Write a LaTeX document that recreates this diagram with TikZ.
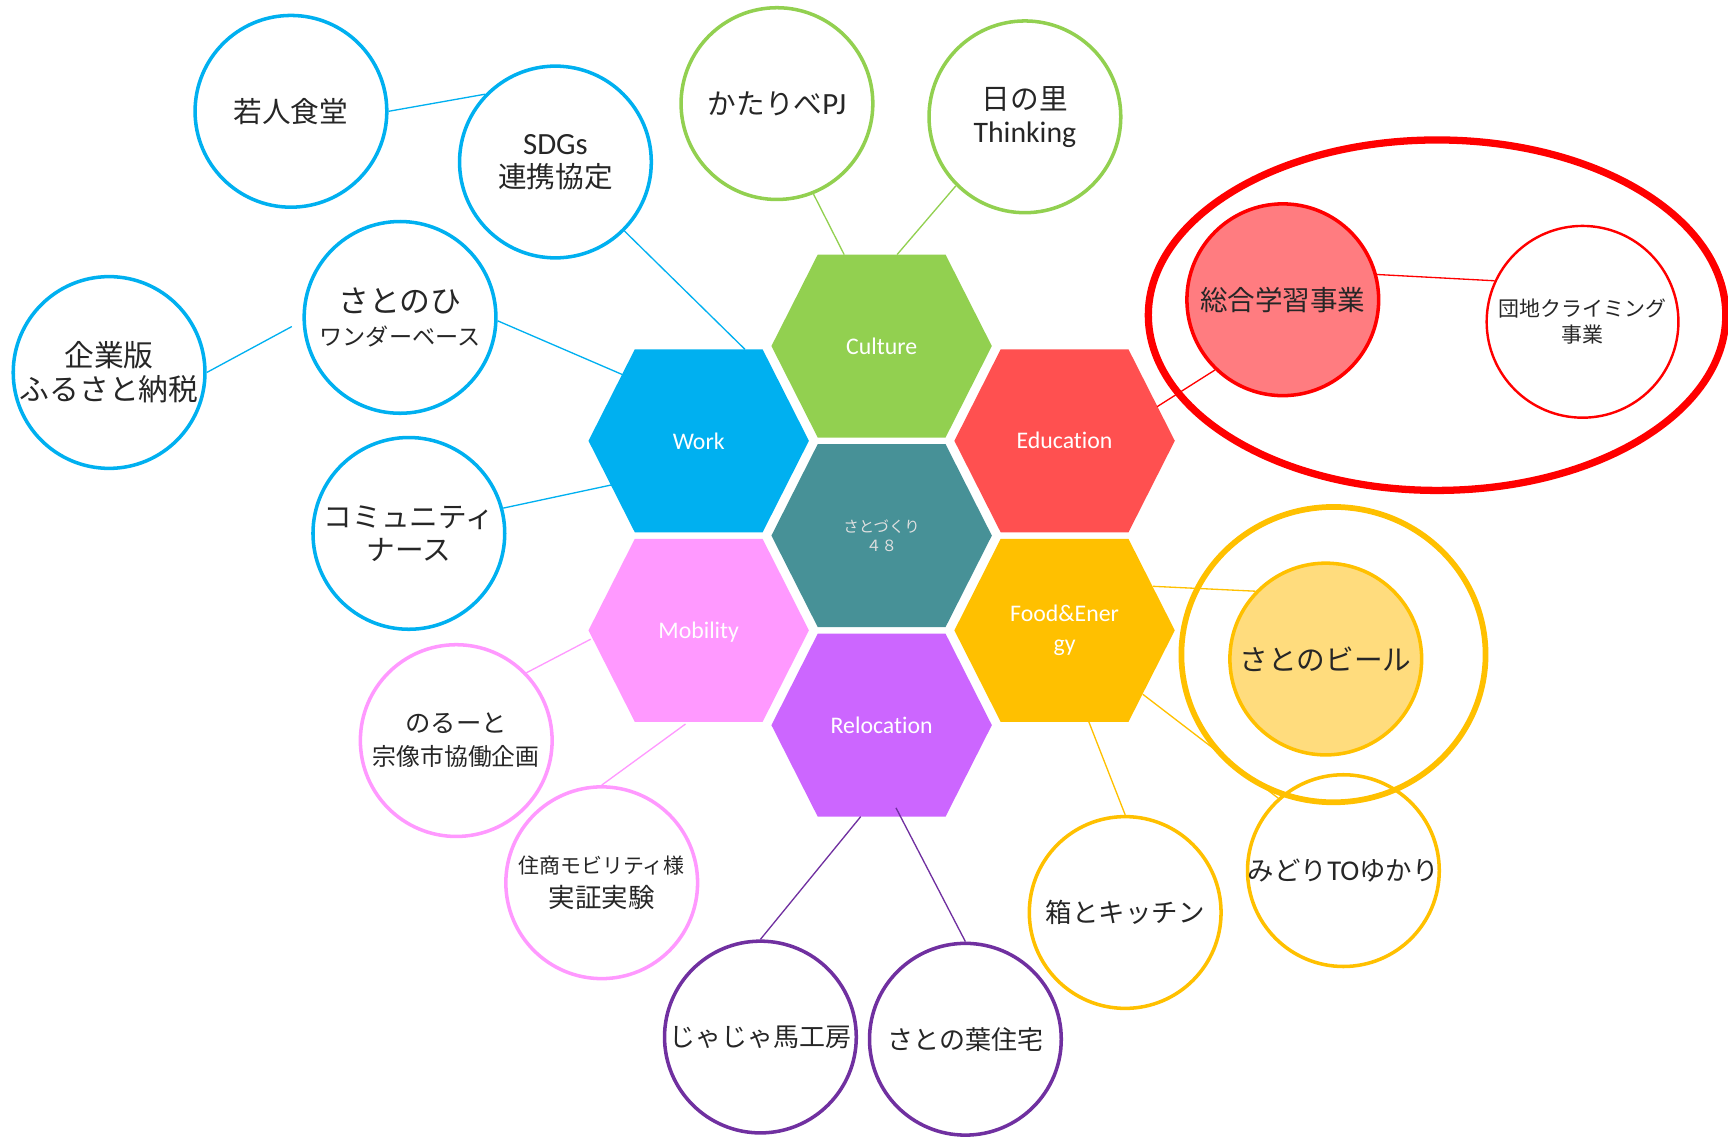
\documentclass[tikz,border=0pt]{standalone}
\usepackage{fontspec}
\setmainfont{Carlito}[Ligatures=NoCommon]
\newfontfamily\jp{Noto Sans CJK JP}
\newfontfamily\lat{Carlito}[Ligatures=NoCommon]
\usetikzlibrary{calc,shapes.geometric}

\definecolor{cWork}{HTML}{00B0F0}
\definecolor{cCulture}{HTML}{92D050}
\definecolor{cEdu}{HTML}{FF5050}
\definecolor{cCore}{HTML}{479197}
\definecolor{cMob}{HTML}{FF99FF}
\definecolor{cFood}{HTML}{FFC000}
\definecolor{cReloc}{HTML}{CC66FF}
\definecolor{cRing}{HTML}{FF0000}
\definecolor{cSalmon}{HTML}{FF7C80}
\definecolor{cBeer}{HTML}{FFDC7D}
\definecolor{cPurple}{HTML}{7030A0}

\newcommand{\hexfill}[2]{\fill[#2] (#1) ++(-100,0) -- ++(42,-83) -- ++(116,0) -- ++(42,83) -- ++(-42,83) -- ++(-116,0) -- cycle;}

\begin{document}
\begin{tikzpicture}[
		x=0.5pt, y=-0.5pt,
		hexlabel/.style={text=white, align=center, font=\fontsize{10.8}{13.5}\selectfont},
		bub/.style={draw=#1, circle, line width=1.6pt, minimum size=87pt, inner sep=0pt, align=center, text=black!85, font=\jp\fontsize{13}{15}\selectfont},
		outring/.style={draw=#1, ellipse, inner sep=0pt},
		ln/.style={draw=#1, line width=0.6pt}
	]
	\useasboundingbox (0,0) rectangle (1568,1033);

	\hexfill{800,314}{cCulture}
	\hexfill{634,400}{cWork}
	\hexfill{966,400}{cEdu}
	\hexfill{800,486}{cCore}
	\hexfill{634,572}{cMob}
	\hexfill{966,572}{cFood}
	\hexfill{800,658}{cReloc}

	\node[hexlabel] (culture) at (800,314) {Culture};
	\node[hexlabel] (work) at (634,400) {Work};
	\node[hexlabel] (edu) at (966,400) {Education};
	\node[hexlabel, text=white!88!black, font=\jp\fontsize{7}{8.5}\selectfont] (core) at (800,486) {さとづくり\\４８};
	\node[hexlabel] (mob) at (634,574) {Mobility};
	\node[hexlabel] (food) at (966,572) {Food\&Ener\\gy};
	\node[hexlabel] (reloc) at (800,658) {Relocation};

	\node[outring=cRing, line width=3.3pt, minimum width=262pt, minimum height=159pt] (eduring) at (1304,286) {};
	\node[outring=cFood, line width=2.6pt, minimum width=138pt, minimum height=134pt] (beerring) at (1210,594) {};

	\node[bub=cWork] (wakaudo) at (264,101) {若人食堂};
	\node[bub=cWork] (sdgs) at (504,147) {{\lat\fontsize{14}{15}\selectfont SDGs}\\連携協定};
	\node[bub=cWork] (satonohi) at (363,288) {\fontsize{14}{16}\selectfont さとのひ\\\fontsize{10.5}{14}\selectfont ワンダーベース};
	\node[bub=cWork, font=\jp\fontsize{13.5}{15.5}\selectfont] (kigyo) at (99,338) {企業版\\ふるさと納税};
	\node[bub=cWork] (community) at (371,484) {コミュニティ\\ナース};

	\node[bub=cCulture] (katari) at (705,94) {かたりべ{\lat\fontsize{14}{15}\selectfont PJ}};
	\node[bub=cCulture] (hinosato) at (930,106) {日の里\\{\lat\fontsize{13.5}{15}\selectfont Thinking}};

	\node[bub=cRing, fill=cSalmon, font=\jp\fontsize{12.5}{15}\selectfont] (sogo) at (1164,272) {総合学習事業};
	\node[bub=cRing, line width=1.1pt, font=\jp\fontsize{9.5}{12}\selectfont] (danchi) at (1436,292) {団地クライミング\\事業};

	\node[bub=cFood, fill=cBeer] (beer) at (1203,598) {さとのビール};
	\node[bub=cFood, font=\jp\fontsize{12}{15}\selectfont] (midori) at (1219,790) {みどり{\lat\fontsize{13}{15}\selectfont TO}ゆかり};
	\node[bub=cFood, font=\jp\fontsize{12}{15}\selectfont] (hako) at (1021,828) {箱とキッチン};

	\node[bub=cMob] (norto) at (414,672) {\fontsize{11.5}{14}\selectfont のるーと\\\fontsize{10.8}{14}\selectfont 宗像市協働企画};
	\node[bub=cMob] (jusho) at (546,801) {\fontsize{9.5}{13}\selectfont 住商モビリティ様\\\fontsize{12}{13}\selectfont 実証実験};

	\node[bub=cPurple, font=\jp\fontsize{11.8}{14}\selectfont] (jaja) at (690,941) {じゃじゃ馬工房};
	\node[bub=cPurple, font=\jp\fontsize{11.8}{14}\selectfont] (hanoha) at (876,943) {さとの葉住宅};

	\draw[ln=cWork] (wakaudo.0) -- (sdgs.136);
	\draw[ln=cWork] (sdgs.-45) -- ($(work)+(42,-83)$);
	\draw[ln=cWork] (satonohi.-2) -- ($(work)+(-69,-60)$);
	\draw[ln=cWork, shorten >=5.5pt] (kigyo.0) -- (satonohi.182);
	\draw[ln=cWork] (community.15) -- ($(work)+(-79,40)$);
	\draw[ln=cCulture] (katari.-68) -- ($(culture)+(-34,-83)$);
	\draw[ln=cCulture] (hinosato.-135) -- ($(culture)+(14,-83)$);
	\draw[ln=cRing] ($(edu)+(84,-31)$) -- (sogo.-134);
	\draw[ln=cRing] (sogo.15) -- (danchi.155);
	\draw[ln=cFood] ($(food)+(80,-40)$) -- (beer.136);
	\draw[ln=cFood] ($(food)+(71,58)$) -- (midori.132);
	\draw[ln=cFood] ($(food)+(22,83)$) -- (hako.90);
	\draw[ln=cMob] ($(mob)+(-98,6)$) -- (norto.44);
	\draw[ln=cMob] ($(mob)+(-12,83)$) -- (jusho.90);
	\draw[ln=cPurple] ($(reloc)+(-19,83)$) -- (jaja.90);
	\draw[ln=cPurple] ($(reloc)+(13,75)$) -- (hanoha.90);
\end{tikzpicture}
\end{document}
